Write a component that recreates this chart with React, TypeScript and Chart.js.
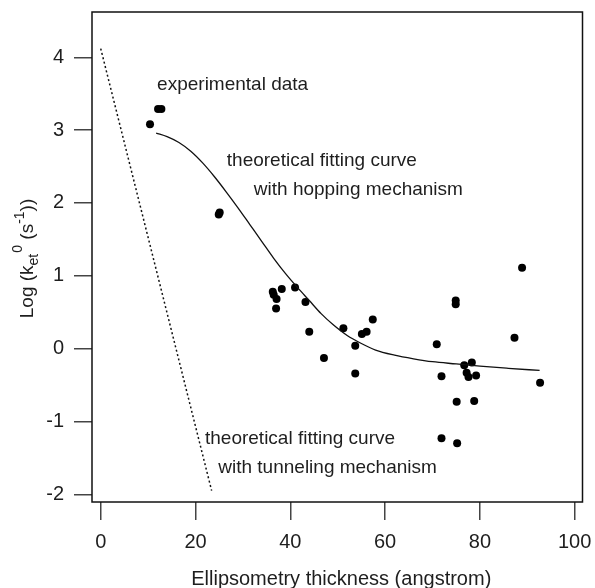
import React, { useEffect, useRef } from "react";
import { Chart, registerables } from "chart.js";

Chart.register(...registerables);

// Experimental data (Ellipsometry thickness, Log k)
const expX = [10.4, 12.1, 12.8, 24.9, 25.1, 36.3, 36.5, 37.1, 37.0, 38.2, 41.0, 43.2, 44.0, 47.1, 51.2, 53.7, 53.7, 55.1, 56.1, 57.4, 70.9, 71.9, 71.9, 74.9, 74.9, 75.1, 75.2, 76.7, 77.2, 77.6, 78.3, 79.2, 78.8, 87.3, 88.9, 92.7];
const expY = [3.08, 3.29, 3.29, 1.84, 1.87, 0.78, 0.74, 0.68, 0.55, 0.82, 0.84, 0.64, 0.23, -0.13, 0.28, 0.04, -0.34, 0.2, 0.23, 0.4, 0.06, -0.38, -1.23, 0.66, 0.61, -0.73, -1.3, -0.23, -0.33, -0.39, -0.19, -0.37, -0.72, 0.15, 1.11, -0.47];

// Hopping fitting curve
const hopX = [11.7, 14.0, 16.5, 19.0, 21.5, 24.0, 26.5, 29.0, 31.5, 34.0, 36.5, 39.0, 41.5, 44.0, 46.5, 49.0, 52.0, 55.0, 58.0, 62.0, 66.0, 70.0, 75.0, 80.0, 86.0, 92.6];
const hopY = [2.96, 2.91, 2.83, 2.71, 2.55, 2.36, 2.15, 1.93, 1.7, 1.47, 1.24, 1.03, 0.84, 0.66, 0.48, 0.33, 0.18, 0.07, -0.02, -0.09, -0.14, -0.18, -0.21, -0.24, -0.27, -0.3];

// Tunneling fitting curve
const tunX = [0, 23.4];
const tunY = [4.12, -1.95];

const xTicks = [0, 20, 40, 60, 80, 100];
const yTicks = [-2, -1, 0, 1, 2, 3, 4];

const xTitle = "Ellipsometry thickness (angstrom)";

const annotations = [
  { text: "experimental data", x: 11.9, y: 3.62 },
  { text: "theoretical fitting curve", x: 26.6, y: 2.58 },
  { text: "with hopping mechanism", x: 32.3, y: 2.18 },
  { text: "theoretical fitting curve", x: 22.0, y: -1.24 },
  { text: "with tunneling mechanism", x: 24.8, y: -1.64 },
];

const FONT = "'Liberation Sans', Arial, sans-serif";
const TEXT = "#1e1e1e";

const toPts = (xs: number[], ys: number[]) => xs.map((x, i) => ({ x, y: ys[i] }));

const zeroPad = (s: any) => {
  s.paddingTop = 0;
  s.paddingBottom = 0;
  s.paddingLeft = 0;
  s.paddingRight = 0;
};

export default function App() {
  const ref = useRef<HTMLCanvasElement | null>(null);

  useEffect(() => {
    if (!ref.current) return;

    const decor = {
      id: "decor",
      afterDraw(chart: any) {
        const { ctx, chartArea } = chart;
        const xs = chart.scales.x;
        const ys = chart.scales.y;
        ctx.save();
        // box
        ctx.strokeStyle = "#111";
        ctx.lineWidth = 1.5;
        ctx.strokeRect(chartArea.left, chartArea.top, chartArea.right - chartArea.left, chartArea.bottom - chartArea.top);

        // annotations
        ctx.fillStyle = TEXT;
        ctx.font = `19px ${FONT}`;
        ctx.textAlign = "left";
        ctx.textBaseline = "middle";
        annotations.forEach((a) => {
          ctx.fillText(a.text, xs.getPixelForValue(a.x), ys.getPixelForValue(a.y));
        });

        // x title
        ctx.font = `20px ${FONT}`;
        ctx.textAlign = "center";
        ctx.textBaseline = "alphabetic";
        ctx.fillText(xTitle, (chartArea.left + chartArea.right) / 2 + 4, 585);

        // y title with sub/superscripts
        const big = 19;
        const small = 14;
        const parts = [
          { t: "Log (k", s: big, dy: 0 },
          { t: "et", s: small, dy: 5 },
          { t: "0", s: small, dy: -11 },
          { t: " (s", s: big, dy: 0 },
          { t: "-1", s: small, dy: -9 },
          { t: "))", s: big, dy: 0 },
        ];
        let total = 0;
        const widths = parts.map((p) => {
          ctx.font = `${p.s}px ${FONT}`;
          const w = ctx.measureText(p.t).width;
          total += w;
          return w;
        });
        ctx.translate(33, (chartArea.top + chartArea.bottom) / 2 + 2);
        ctx.rotate(-Math.PI / 2);
        ctx.textAlign = "left";
        let cx = -total / 2;
        parts.forEach((p, i) => {
          ctx.font = `${p.s}px ${FONT}`;
          ctx.fillText(p.t, cx, p.dy);
          cx += widths[i] + (i === 1 ? 1 : 0);
        });
        ctx.restore();
      },
    };

    const tickFont = { family: FONT, size: 20 };

    const chart = new Chart(ref.current, {
      type: "scatter",
      data: {
        datasets: [
          {
            label: "tunneling",
            data: toPts(tunX, tunY),
            showLine: true,
            borderColor: "#111",
            borderWidth: 1.5,
            borderDash: [2, 2.5],
            pointRadius: 0,
          },
          {
            label: "hopping",
            data: toPts(hopX, hopY),
            showLine: true,
            borderColor: "#111",
            borderWidth: 1.3,
            cubicInterpolationMode: "monotone",
            pointRadius: 0,
          },
          {
            label: "experimental",
            data: toPts(expX, expY),
            showLine: false,
            pointRadius: 4,
            pointStyle: "circle",
            backgroundColor: "#000",
            borderColor: "#000",
            borderWidth: 0,
          },
        ],
      },
      options: {
        responsive: false,
        animation: false,
        devicePixelRatio: 1,
        layout: { padding: { left: 0, top: 12, right: 12.5, bottom: 0 } },
        plugins: { legend: { display: false }, tooltip: { enabled: false } },
        scales: {
          x: {
            type: "linear",
            min: -1.84,
            max: 101.65,
            afterBuildTicks: (s: any) => {
              s.ticks = xTicks.map((v) => ({ value: v }));
            },
            afterFit: (s: any) => {
              s.height = 86;
              zeroPad(s);
            },
            grid: { drawOnChartArea: false, drawTicks: true, tickLength: 18, color: "#444", lineWidth: 1.5 },
            border: { display: false },
            ticks: { font: tickFont, color: TEXT, padding: 10, maxRotation: 0, autoSkip: false },
          },
          y: {
            type: "linear",
            min: -2.106,
            max: 4.622,
            afterBuildTicks: (s: any) => {
              s.ticks = yTicks.map((v) => ({ value: v }));
            },
            afterFit: (s: any) => {
              s.width = 92;
              zeroPad(s);
            },
            grid: { drawOnChartArea: false, drawTicks: true, tickLength: 18, color: "#444", lineWidth: 1.5 },
            border: { display: false },
            ticks: { font: tickFont, color: TEXT, padding: 10, autoSkip: false },
          },
        },
      },
      plugins: [decor],
    } as any);

    return () => chart.destroy();
  }, []);

  return (
    <div style={{ position: "absolute", left: 0, top: 0, width: 595, height: 588, background: "#fff" }}>
      <canvas ref={ref} width={595} height={588} />
    </div>
  );
}
